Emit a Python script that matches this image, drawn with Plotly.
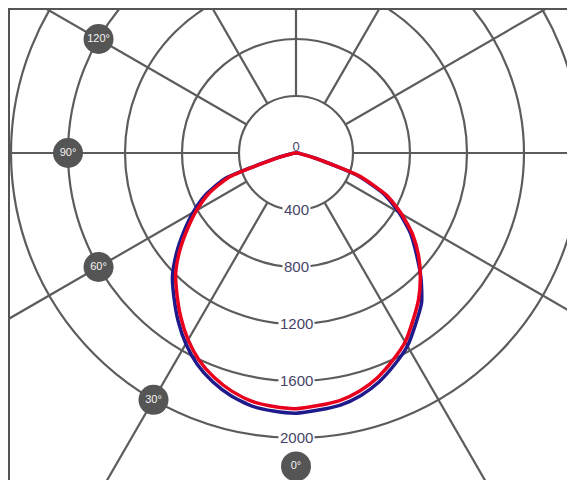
import numpy as np
import plotly.graph_objects as go

# Photometric angles (degrees from nadir)
gamma = [0, 5, 10, 15, 20, 25, 30, 35, 40, 45, 50, 55, 60, 65, 70, 75, 80, 85, 90]

# Luminous intensity (cd/klm)
blue_right = [1826, 1811, 1796, 1761, 1708, 1638, 1564, 1464, 1371, 1240, 1103, 980, 835, 680, 456, 142, 35, 8, 0]
blue_left = [1826, 1818, 1802, 1764, 1709, 1638, 1546, 1441, 1331, 1226, 1095, 960, 834, 704, 534, 160, 40, 10, 0]
red_right = [1794, 1779, 1764, 1729, 1676, 1606, 1532, 1432, 1339, 1234, 1123, 1000, 855, 700, 474, 138, 35, 8, 0]
red_left = [1794, 1786, 1770, 1732, 1677, 1606, 1514, 1409, 1299, 1194, 1065, 930, 806, 676, 506, 140, 30, 6, 0]

ring_values = [400, 800, 1200, 1600, 2000]
ring_labels = ["400", "800", "1200", "1600", "2000"]
spoke_angles = [30, 60, 90, 120, 150, 180, 210, 240, 270, 300, 330]
angle_label_values = [0, 30, 60, 90, 120]
angle_label_texts = ["0°", "30°", "60°", "90°", "120°"]
angle_label_radius = [2200, 2000, 1600, 1600, 1600]

GRID = "#5c5c5c"
FRAME = "#555555"


def polar_xy(theta_deg, r):
    t = np.radians(np.asarray(theta_deg, dtype=float))
    r = np.asarray(r, dtype=float)
    return r * np.sin(t), -r * np.cos(t)


def full_curve(left, right):
    g = np.asarray(gamma, dtype=float)
    theta = np.concatenate([-g[::-1], g[1:]])
    vals = np.concatenate([np.asarray(left)[::-1], np.asarray(right)[1:]])
    return polar_xy(theta, vals)


fig = go.Figure()

shapes = []
for rv in ring_values:
    shapes.append(dict(type="circle", xref="x", yref="y", x0=-rv, x1=rv, y0=-rv, y1=rv,
                       line=dict(color=GRID, width=2.2), layer="below"))
for a in spoke_angles:
    xs, ys = polar_xy([a, a], [ring_values[0], 4000])
    shapes.append(dict(type="line", xref="x", yref="y", x0=xs[0], y0=ys[0], x1=xs[1], y1=ys[1],
                       line=dict(color=GRID, width=2.2), layer="below"))

# "0" label at centre (below curves)
fig.add_trace(go.Scatter(x=[0], y=[40], mode="text", text=["0"],
                         textfont=dict(size=13, color="#444466", family="Liberation Sans"),
                         hoverinfo="skip", showlegend=False))

bx, by = full_curve(blue_left, blue_right)
rx, ry = full_curve(red_left, red_right)
fig.add_trace(go.Scatter(x=bx, y=by, mode="lines", line=dict(color="#1f1a8c", width=3.5, shape="spline", smoothing=0.6),
                         name="C0 - C180", showlegend=False))
fig.add_trace(go.Scatter(x=rx, y=ry, mode="lines", line=dict(color="#e8001e", width=3.5, shape="spline", smoothing=0.6),
                         name="C90 - C270", showlegend=False))

# Angle labels
lx, ly = polar_xy([-a for a in angle_label_values], angle_label_radius)
fig.add_trace(go.Scatter(x=lx, y=ly, mode="markers+text", text=angle_label_texts,
                         textposition="middle center",
                         marker=dict(size=30, color="#555555", line=dict(width=0)),
                         textfont=dict(size=11, color="#f4f4f4", family="Liberation Sans"),
                         hoverinfo="skip", showlegend=False))

annotations = []
for rv, lab in zip(ring_values, ring_labels):
    annotations.append(dict(x=0, y=-rv, xref="x", yref="y", text=lab, showarrow=False,
                            font=dict(size=15, color="#444466", family="Liberation Sans"),
                            bgcolor="white", borderpad=1))

fig.update_layout(
    width=575, height=480,
    margin=dict(l=2, r=0, t=2, b=0),
    paper_bgcolor="white", plot_bgcolor="white",
    shapes=shapes, annotations=annotations,
    xaxis=dict(range=[-2007, 2014], side="top", showline=True, linecolor=FRAME, linewidth=3,
               showgrid=False, zeroline=False, showticklabels=False, ticks="", fixedrange=True),
    yaxis=dict(range=[-2351, 1003.5], side="left", showline=True, linecolor=FRAME, linewidth=3,
               showgrid=False, zeroline=False, showticklabels=False, ticks="", fixedrange=True),
)

fig.write_html("out.html")
